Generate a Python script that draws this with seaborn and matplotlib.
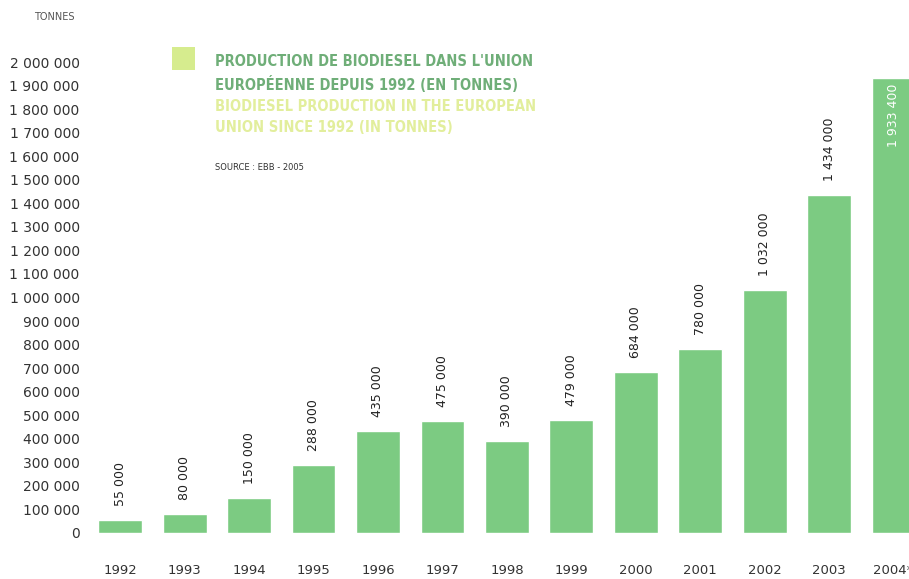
import matplotlib
matplotlib.use("Agg")
import matplotlib.pyplot as plt
from matplotlib.patches import Rectangle
import seaborn as sns
import pandas as pd

# Biodiesel production in the EU, tonnes per year
years = ["1992", "1993", "1994", "1995", "1996", "1997", "1998",
         "1999", "2000", "2001", "2002", "2003", "2004*"]
production = [55000, 80000, 150000, 288000, 435000, 475000, 390000,
              479000, 684000, 780000, 1032000, 1434000, 1933400]
y_ticks = list(range(0, 2000001, 100000))

title_fr = "PRODUCTION DE BIODIESEL DANS L'UNION\nEUROPÉENNE DEPUIS 1992 (EN TONNES)"
title_en = "BIODIESEL PRODUCTION IN THE EUROPEAN\nUNION SINCE 1992 (IN TONNES)"
source = "SOURCE : EBB - 2005"
unit = "TONNES"

BAR = "#7ccb82"
TEXT = "#333333"


def fmt(v):
    return f"{v:,}".replace(",", " ")


sns.set_theme(style="white")
plt.rcParams["font.family"] = ["DejaVu Sans"]

df = pd.DataFrame({"year": years, "tonnes": production})

W, H = 909, 579
fig = plt.figure(figsize=(W / 100, H / 100), dpi=100)
ax = fig.add_axes([88 / W, (H - 533) / H, (W - 88) / W, (533 - 62) / H])

sns.barplot(data=df, x="year", y="tonnes", color=BAR, saturation=1,
            width=0.68, ax=ax)

ax.set_xlim(-0.5, 12.24)
ax.set_ylim(0, 2000000)
ax.set_yticks(y_ticks)
ax.set_yticklabels([fmt(t) for t in y_ticks])
ax.set_xlabel("")
ax.set_ylabel("")
for s in ax.spines.values():
    s.set_visible(False)
ax.tick_params(axis="y", length=0, pad=6, labelsize=10, labelcolor=TEXT)
ax.tick_params(axis="x", length=0, pad=22, labelsize=9.5, labelcolor=TEXT)

last = len(production) - 1
for i, v in enumerate(production):
    if i == last:
        ax.annotate(fmt(v), xy=(i, v), xytext=(0, -4),
                    textcoords="offset points", rotation=90,
                    ha="center", va="top", fontsize=9, color="white")
    else:
        ax.annotate(fmt(v), xy=(i, v), xytext=(0, 10),
                    textcoords="offset points", rotation=90,
                    ha="center", va="bottom", fontsize=9, color="#222222")

# header block
fig.patches.append(Rectangle((172 / W, 1 - 70 / H), 23 / W, 23 / H,
                             transform=fig.transFigure,
                             facecolor="#d6ec8e", edgecolor="none"))
fig.text(215 / W, 1 - 54 / H, title_fr, ha="left", va="top",
         fontsize=10.5, fontweight="bold", fontstretch="condensed",
         color="#6fae78", linespacing=1.5)
fig.text(215 / W, 1 - 99 / H, title_en, ha="left", va="top",
         fontsize=10.5, fontweight="bold", fontstretch="condensed",
         color="#e2ee9c", linespacing=1.5)
fig.text(215 / W, 1 - 167 / H, source, ha="left", va="center",
         fontsize=6, color="#333333")
fig.text(75 / W, 1 - 17 / H, unit, ha="right", va="center",
         fontsize=7, color="#555555")

fig.savefig("out.png", dpi=100)
